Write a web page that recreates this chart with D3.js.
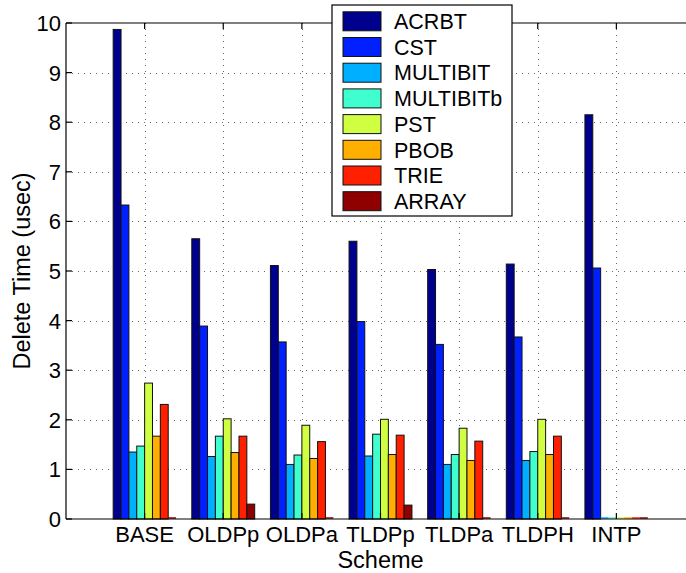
<!DOCTYPE html>
<html>
<head>
<meta charset="utf-8">
<script src="https://cdn.jsdelivr.net/npm/d3@7"></script>
<style>
  body { margin: 0; background: #fff; }
  text { font-family: "Liberation Sans", Arial, sans-serif; fill: #000; }
</style>
</head>
<body>
<script>
//==============================================================================
// DATA
//==============================================================================

const schemes = ['BASE', 'OLDPp', 'OLDPa', 'TLDPp', 'TLDPa', 'TLDPH', 'INTP'];
const series = ['ACRBT', 'CST', 'MULTIBIT', 'MULTIBITb', 'PST', 'PBOB', 'TRIE', 'ARRAY'];
const colors = ['#00008f', '#0020ff', '#00afff', '#40ffcf', '#cfff40', '#ffaf00', '#ff2000', '#8f0000'];

// one array per series, one value per scheme
const ACRBT     = [9.87, 5.65, 5.11, 5.60, 5.03, 5.14, 8.15];
const CST       = [6.33, 3.89, 3.57, 3.98, 3.52, 3.67, 5.06];
const MULTIBIT  = [1.35, 1.26, 1.10, 1.27, 1.10, 1.18, 0];
const MULTIBITb = [1.47, 1.67, 1.29, 1.71, 1.30, 1.36, 0];
const PST       = [2.74, 2.02, 1.89, 2.01, 1.83, 2.01, 0];
const PBOB      = [1.67, 1.34, 1.22, 1.30, 1.18, 1.30, 0];
const TRIE      = [2.31, 1.67, 1.56, 1.69, 1.57, 1.67, 0];
const ARRAY     = [0, 0.30, 0, 0.28, 0, 0, 0];

const values = [ACRBT, CST, MULTIBIT, MULTIBITb, PST, PBOB, TRIE, ARRAY];
const yTicks = [0, 1, 2, 3, 4, 5, 6, 7, 8, 9, 10];

//==============================================================================
// PARAMETERS
//==============================================================================

const W = 686, H = 573;
const m = { left: 66, top: 23, bottom: 519, right: 695 };
const tickFont = 22, labelFont = 23.5;

const svg = d3.select('body').append('svg')
  .attr('width', W)
  .attr('height', H);

const x = d3.scaleLinear().domain([0, schemes.length + 1]).range([m.left, m.right]);
const y = d3.scaleLinear().domain([0, 10]).range([m.bottom, m.top]);

const groupWidth = 0.8;
const barW = groupWidth / series.length;

//==============================================================================
// DRAW
//==============================================================================

// grid
const grid = svg.append('g').attr('class', 'grid')
  .attr('stroke', '#666')
  .attr('stroke-width', 1)
  .attr('stroke-dasharray', '1,5');

grid.selectAll('line.h')
  .data(yTicks.filter(d => d > 0 && d < 10))
  .enter().append('line')
  .attr('class', 'h')
  .attr('x1', m.left).attr('x2', m.right)
  .attr('y1', d => Math.round(y(d)) + 0.5)
  .attr('y2', d => Math.round(y(d)) + 0.5);

grid.selectAll('line.v')
  .data(schemes)
  .enter().append('line')
  .attr('class', 'v')
  .attr('x1', (d, i) => Math.round(x(i + 1)) + 0.5)
  .attr('x2', (d, i) => Math.round(x(i + 1)) + 0.5)
  .attr('y1', m.top).attr('y2', m.bottom);

// bars
const bars = svg.append('g').attr('class', 'bars');
series.forEach((s, j) => {
  const g = bars.append('g').attr('fill', colors[j]);
  values[j].forEach((v, i) => {
    const x0 = x(i + 1 - groupWidth / 2 + j * barW);
    const x1 = x(i + 1 - groupWidth / 2 + (j + 1) * barW);
    if (v > 0) {
      g.append('rect')
        .attr('x', x0)
        .attr('y', y(v))
        .attr('width', x1 - x0)
        .attr('height', y(0) - y(v))
        .attr('stroke', '#111')
        .attr('stroke-width', 1);
    } else {
      g.append('line')
        .attr('x1', x0).attr('x2', x1)
        .attr('y1', y(0) - 1).attr('y2', y(0) - 1)
        .attr('stroke', colors[j])
        .attr('stroke-width', 1.5);
    }
  });
});

// axes lines
const axes = svg.append('g').attr('stroke', '#000').attr('stroke-width', 1.2);
axes.append('line').attr('x1', m.left).attr('x2', m.left).attr('y1', m.top).attr('y2', m.bottom);
axes.append('line').attr('x1', m.left).attr('x2', W).attr('y1', m.top).attr('y2', m.top);
axes.append('line').attr('x1', m.left).attr('x2', W).attr('y1', m.bottom).attr('y2', m.bottom);

// y ticks (inward)
axes.selectAll('line.yt')
  .data(yTicks)
  .enter().append('line')
  .attr('class', 'yt')
  .attr('x1', m.left).attr('x2', m.left + 6)
  .attr('y1', d => y(d)).attr('y2', d => y(d));

// x ticks (inward, top and bottom)
schemes.forEach((s, i) => {
  axes.append('line').attr('x1', x(i + 1)).attr('x2', x(i + 1)).attr('y1', m.bottom).attr('y2', m.bottom - 6);
  axes.append('line').attr('x1', x(i + 1)).attr('x2', x(i + 1)).attr('y1', m.top).attr('y2', m.top + 6);
});

// tick labels
svg.append('g').selectAll('text')
  .data(yTicks)
  .enter().append('text')
  .attr('x', m.left - 5)
  .attr('y', d => y(d))
  .attr('dy', '0.36em')
  .attr('text-anchor', 'end')
  .attr('font-size', tickFont)
  .text(d => d);

svg.append('g').selectAll('text')
  .data(schemes)
  .enter().append('text')
  .attr('x', (d, i) => x(i + 1))
  .attr('y', 542)
  .attr('text-anchor', 'middle')
  .attr('font-size', tickFont)
  .text(d => d);

// axis titles
svg.append('text')
  .attr('x', (m.left + m.right) / 2)
  .attr('y', 568)
  .attr('text-anchor', 'middle')
  .attr('font-size', labelFont)
  .text('Scheme');

svg.append('text')
  .attr('transform', `translate(30, ${(m.top + m.bottom) / 2}) rotate(-90)`)
  .attr('text-anchor', 'middle')
  .attr('font-size', labelFont)
  .text('Delete Time (usec)');

// legend
const lg = svg.append('g').attr('transform', 'translate(332, 5)');
lg.append('rect')
  .attr('width', 180).attr('height', 211)
  .attr('fill', '#fff')
  .attr('stroke', '#000')
  .attr('stroke-width', 1.2);

const item = lg.selectAll('g.item')
  .data(series)
  .enter().append('g')
  .attr('class', 'item')
  .attr('transform', (d, i) => `translate(0, ${16.3 + i * 25.7})`);

item.append('rect')
  .attr('x', 11).attr('y', -9.5)
  .attr('width', 38).attr('height', 19)
  .attr('fill', (d, i) => colors[i])
  .attr('stroke', '#111');

item.append('text')
  .attr('x', 62)
  .attr('dy', '0.36em')
  .attr('font-size', 21.5)
  .text(d => d);
</script>
</body>
</html>
